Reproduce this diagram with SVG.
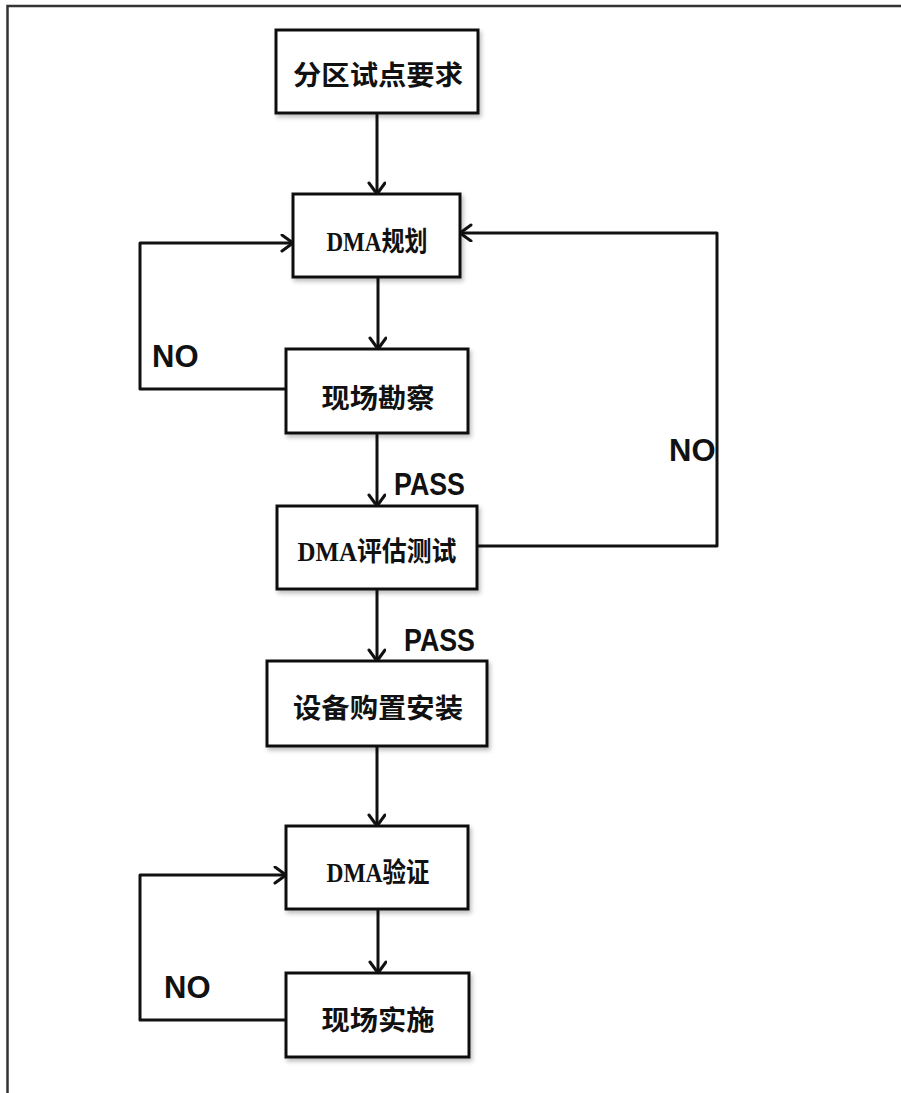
<svg xmlns="http://www.w3.org/2000/svg" width="901" height="1093" viewBox="0 0 901 1093">
<style>
.box{fill:#fff;stroke:#111;stroke-width:3;filter:url(#sh)}
.lbl{font-family:"Liberation Serif","Noto Sans CJK SC",serif;font-weight:bold;font-size:27px;fill:#111;text-anchor:middle}
.cn{font-family:"Noto Sans CJK SC",sans-serif;font-weight:bold;font-size:27px;fill:#111;text-anchor:middle}
.cond{font-family:"Liberation Sans",Arial,sans-serif;font-weight:bold;font-size:31px;fill:#111}
.ln{fill:none;stroke:#111;stroke-width:3;stroke-linejoin:round}
</style>
<defs>
<filter id="sh" x="-10%" y="-10%" width="125%" height="130%">
<feDropShadow dx="2" dy="3" stdDeviation="2" flood-color="#000" flood-opacity="0.25"/>
</filter>
<marker id="ar" markerUnits="userSpaceOnUse" markerWidth="20" markerHeight="20" refX="13" refY="9" orient="auto">
<path d="M2,1 L13,9 L2,17" fill="none" stroke="#111" stroke-width="3" stroke-linejoin="round" stroke-linecap="round"/>
</marker>
</defs>
<rect width="901" height="1093" fill="#fff"/>
<path d="M7.5,1093 L7.5,6 L901,6" fill="none" stroke="#333" stroke-width="2.5"/>

<g id="connectors">
<path class="ln" d="M377,113 L377,194" marker-end="url(#ar)"/>
<path class="ln" d="M378,277 L378,349" marker-end="url(#ar)"/>
<path class="ln" d="M377,433 L377,506" marker-end="url(#ar)"/>
<path class="ln" d="M377,589 L377,661" marker-end="url(#ar)"/>
<path class="ln" d="M377,746 L377,826" marker-end="url(#ar)"/>
<path class="ln" d="M378,903 L378,973" marker-end="url(#ar)"/>
<path class="ln" d="M286,389 L140,389 L140,243 L293,243" marker-end="url(#ar)"/>
<path class="ln" d="M477,546 L717,546 L717,233 L460,233" marker-end="url(#ar)"/>
<path class="ln" d="M286,1020 L140,1020 L140,875 L286,875" marker-end="url(#ar)"/>
<text class="cond" x="152" y="367">NO</text>
<text class="cond" x="669" y="461">NO</text>
<text class="cond" x="394" y="495" textLength="71" lengthAdjust="spacingAndGlyphs">PASS</text>
<text class="cond" x="404" y="651" textLength="71" lengthAdjust="spacingAndGlyphs">PASS</text>
<text class="cond" x="164" y="998">NO</text>
</g>

<g id="n1"><rect class="box" x="276" y="30" width="202" height="83"/><text class="cn" x="378" y="85" textLength="170" lengthAdjust="spacingAndGlyphs">分区试点要求</text></g>
<g id="n2"><rect class="box" x="293" y="194" width="167" height="83"/><text class="lbl" x="377" y="251" textLength="101" lengthAdjust="spacingAndGlyphs">DMA规划</text></g>
<g id="n3"><rect class="box" x="286" y="349" width="182" height="84"/><text class="cn" x="378" y="408" textLength="113" lengthAdjust="spacingAndGlyphs">现场勘察</text></g>
<g id="n4"><rect class="box" x="277" y="506" width="200" height="83"/><text class="lbl" x="377" y="561" textLength="159" lengthAdjust="spacingAndGlyphs">DMA评估测试</text></g>
<g id="n5"><rect class="box" x="267" y="661" width="220" height="85"/><text class="cn" x="378" y="718" textLength="170" lengthAdjust="spacingAndGlyphs">设备购置安装</text></g>
<g id="n6"><rect class="box" x="286" y="826" width="182" height="83"/><text class="lbl" x="378" y="882" textLength="103" lengthAdjust="spacingAndGlyphs">DMA验证</text></g>
<g id="n7"><rect class="box" x="286" y="973" width="183" height="84"/><text class="cn" x="378" y="1030" textLength="113" lengthAdjust="spacingAndGlyphs">现场实施</text></g>
</svg>
